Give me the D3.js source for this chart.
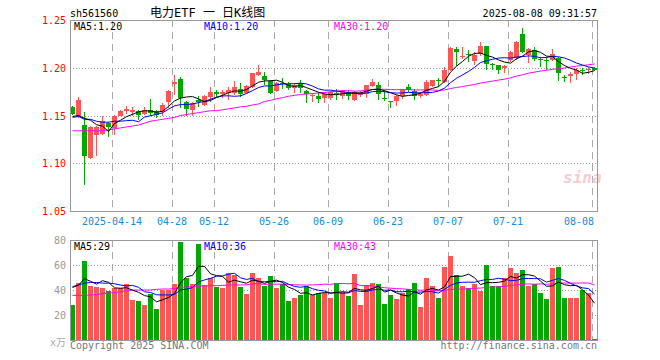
<!DOCTYPE html>
<html><head><meta charset="utf-8">
<script src="https://cdn.jsdelivr.net/npm/d3@7"></script>
<style>
body{margin:0;background:#fff}
svg{display:block}
text{font-family:"DejaVu Sans Mono","Noto Sans CJK SC",monospace}
</style>
</head><body>
<svg id="chart" width="660" height="360"></svg>
<script>
// ---------- data ----------
const dates = ["04-02","04-03","04-07","04-08","04-09","04-10","04-11","04-14","04-15","04-16","04-17","04-18","04-21","04-22","04-23","04-24","04-25","04-28","04-29","04-30",
"05-06","05-07","05-08","05-09","05-12","05-13","05-14","05-15","05-16","05-19","05-20","05-21","05-22","05-23","05-26","05-27","05-28","05-29","05-30",
"06-03","06-04","06-05","06-06","06-09","06-10","06-11","06-12","06-13","06-16","06-17","06-18","06-19","06-20","06-23","06-24","06-25","06-26","06-27","06-30",
"07-01","07-02","07-03","07-04","07-07","07-08","07-09","07-10","07-11","07-14","07-15","07-16","07-17","07-18","07-21","07-22","07-23","07-24","07-25","07-28","07-29","07-30","07-31",
"08-01","08-04","08-05","08-06","08-07","08-08"];
const open = [1.159,1.149,1.140,1.105,1.130,1.131,1.142,1.137,1.150,1.155,1.154,1.155,1.152,1.156,1.155,1.154,1.164,1.183,1.188,1.164,
1.156,1.166,1.161,1.169,1.175,1.173,1.174,1.174,1.178,1.174,1.180,1.192,1.191,1.186,1.176,1.184,1.183,1.179,1.184,
1.176,1.170,1.170,1.168,1.168,1.174,1.170,1.175,1.166,1.171,1.173,1.181,1.182,1.168,1.165,1.165,1.170,1.180,1.176,1.170,
1.171,1.181,1.187,1.185,1.198,1.220,1.211,1.214,1.207,1.214,1.223,1.204,1.203,1.200,1.208,1.210,1.235,1.213,1.219,1.209,1.208,1.208,1.210,
1.190,1.191,1.193,1.198,1.198,1.200];
const high = [1.160,1.169,1.154,1.139,1.139,1.149,1.143,1.151,1.156,1.160,1.159,1.156,1.159,1.167,1.156,1.163,1.177,1.192,1.190,1.165,
1.164,1.170,1.171,1.180,1.177,1.177,1.180,1.186,1.184,1.182,1.195,1.203,1.196,1.187,1.185,1.189,1.185,1.184,1.187,
1.177,1.173,1.175,1.174,1.176,1.178,1.177,1.177,1.176,1.176,1.182,1.188,1.185,1.177,1.165,1.171,1.178,1.183,1.178,1.175,
1.187,1.187,1.189,1.201,1.222,1.222,1.222,1.219,1.216,1.227,1.223,1.205,1.203,1.203,1.218,1.228,1.242,1.221,1.222,1.211,1.211,1.220,1.211,
1.192,1.196,1.200,1.200,1.201,1.201];
const low = [1.151,1.147,1.077,1.104,1.108,1.130,1.127,1.130,1.149,1.152,1.150,1.145,1.151,1.150,1.147,1.149,1.158,1.171,1.158,1.150,
1.149,1.159,1.160,1.164,1.168,1.168,1.166,1.171,1.169,1.173,1.179,1.191,1.182,1.173,1.175,1.178,1.177,1.174,1.174,
1.163,1.164,1.163,1.163,1.166,1.166,1.167,1.166,1.165,1.169,1.168,1.180,1.166,1.165,1.158,1.160,1.167,1.175,1.166,1.168,
1.170,1.180,1.180,1.184,1.197,1.202,1.209,1.206,1.203,1.212,1.198,1.198,1.193,1.195,1.206,1.208,1.215,1.205,1.207,1.201,1.198,1.207,1.186,
1.185,1.184,1.187,1.192,1.193,1.197];
const close = [1.152,1.166,1.108,1.138,1.138,1.144,1.138,1.150,1.155,1.157,1.156,1.151,1.156,1.153,1.151,1.161,1.176,1.185,1.168,1.157,
1.163,1.164,1.170,1.175,1.172,1.175,1.177,1.180,1.173,1.181,1.194,1.196,1.187,1.174,1.184,1.183,1.179,1.182,1.179,
1.173,1.171,1.167,1.173,1.175,1.173,1.176,1.170,1.175,1.174,1.182,1.185,1.172,1.167,1.164,1.170,1.177,1.177,1.170,1.173,
1.185,1.187,1.186,1.198,1.221,1.216,1.212,1.213,1.213,1.223,1.204,1.203,1.198,1.202,1.217,1.227,1.217,1.220,1.209,1.208,1.207,1.214,1.194,
1.189,1.193,1.198,1.197,1.199,1.198];
const volume = [28,45.9,63.5,43.2,42.7,41.9,39.5,41.3,41.6,44.8,32,31.2,28,36.8,24.8,40,40,44.8,78.7,49.9,
44.8,76.8,44,49.3,42.7,41.6,53.9,52,42.7,36.8,53.9,49.9,43.2,51.2,41.3,44.5,31.2,33.9,36,
43.2,36,37.3,37.3,33.9,45.9,38.7,35.2,52.8,28,44,45.9,44.8,28.8,36,32.8,37.3,40.8,45.9,26.7,
49.9,43.2,33.9,58.7,67.5,52,43.2,41.9,44.8,39.5,60,43.2,43.2,49.9,57.9,53.9,56,43.5,44.5,37.9,32.8,57.9,58.7,
33.9,34,34,40,37.9,1];

// moving-average values before the window fills
const priceMA5Head = [1.149,1.150,1.147,1.145];
const priceMA10Head = [1.148,1.149,1.146,1.146,1.144,1.143,1.143,1.144,1.144];
const priceMA30Head = [1.134,1.134,1.134,1.134,1.134,1.134,1.135,1.136,1.137,1.138,1.139,1.140,1.142,1.144,1.145,1.146,1.147,1.148,1.150,1.151,1.152,1.153,1.154,1.155,1.155,1.156,1.157,1.158,1.159];
const volMA5Head = [42,44,49,47];
const volMA10Head = [42.7,44,45.5,46,46,45.5,45.5,45,44];
const volMA30Head = [35.7,35.7,35.7,36,36.3,37.1,37.6,37.9,38.7,39.5,40,40,40,40,40.5,40.8,40.8,41.1,42.1,42.4,42.7,43.2,43.2,43.5,43.5,43.7,44,44,44];

const priceTicks = [1.25,1.20,1.15,1.10,1.05];
const volTicks = [80,60,40,20];
const xTickDates = ["04-14","04-28","05-12","05-26","06-09","06-23","07-07","07-21","08-08"];
const xTickLabels = ["2025-04-14","04-28","05-12","05-26","06-09","06-23","07-07","07-21","08-08"];
const priceMALabels = ["MA5:1.20","MA10:1.20","MA30:1.20"];
const volMALabels = ["MA5:29","MA10:36","MA30:43"];
const maColors = ["#000000","#0000ff","#ff00ff"];

// ---------- layout ----------
const svg = d3.select("#chart");
const L = 70, R = 597;
const P = {top:20, bottom:211};
const V = {top:240, bottom:340};
const UP = "#ff5555", DOWN = "#00a800";

const x = d3.scaleBand().domain(dates).range([69.5, 597.5]).paddingInner(1/6).paddingOuter(1/12);
const y = d3.scaleLinear().domain([1.05,1.25]).range([P.bottom, P.top]);
const yv = d3.scaleLinear().domain([0,80]).range([V.bottom, V.top]);
const cx = d => x(d) + x.bandwidth()/2;
const idx = d3.range(dates.length);
const isUp = i => close[i] >= open[i];

function ma(values, n, head){
  return values.map((v,i)=> i < n-1 ? head[i] : d3.mean(values.slice(i-n+1, i+1)));
}

// ---------- titles ----------
svg.append("text").attr("x",70).attr("y",17).attr("font-size",10).attr("fill","#000").text("sh561560");
svg.append("text").attr("x",150).attr("y",17).attr("font-size",12).attr("fill","#000").text("电力ETF 一 日K线图");
svg.append("text").attr("x",597).attr("y",17).attr("text-anchor","end").attr("font-size",10).attr("fill","#000").text("2025-08-08 09:31:57");

// ---------- grids ----------
function grid(top, bottom, yScale, hTicks){
  const g = svg.append("g").attr("shape-rendering","crispEdges");
  g.selectAll("line.v").data(xTickDates).join("line")
    .attr("x1", d=>Math.round(x(d))+0.5).attr("x2", d=>Math.round(x(d))+0.5)
    .attr("y1", top).attr("y2", bottom)
    .attr("stroke","#aaa").attr("stroke-dasharray","7,5");
  g.selectAll("line.h").data(hTicks).join("line")
    .attr("x1", L).attr("x2", R)
    .attr("y1", d=>Math.round(yScale(d))+0.5).attr("y2", d=>Math.round(yScale(d))+0.5)
    .attr("stroke","#999").attr("stroke-dasharray","1,2");
}
grid(P.top, P.bottom, y, priceTicks.slice(1,-1));
grid(V.top, V.bottom, yv, volTicks.slice(1));

// ---------- axes labels ----------
svg.append("g").selectAll("text").data(priceTicks).join("text")
  .attr("x",66).attr("y",d=>y(d)+4).attr("text-anchor","end").attr("font-size",10).attr("fill","#ff0000")
  .text(d=>d3.format(".2f")(d));
svg.append("g").selectAll("text").data(volTicks).join("text")
  .attr("x",66).attr("y",d=>yv(d)+4).attr("text-anchor","end").attr("font-size",10).attr("fill","#999")
  .text(d=>d);
svg.append("text").attr("x",66).attr("y",346).attr("text-anchor","end").attr("font-size",10).attr("fill","#aaa").text("x万");
svg.append("g").selectAll("text").data(xTickDates).join("text")
  .attr("x",(d,i)=> i===xTickDates.length-1 ? x(d)+2 : x(d))
  .attr("y",225)
  .attr("text-anchor",(d,i)=> i===xTickDates.length-1 ? "end" : "middle")
  .attr("font-size",10).attr("fill","#1a8ad8")
  .text((d,i)=>xTickLabels[i]);

// watermark
svg.append("text").attr("x",563).attr("y",183).attr("font-family","DejaVu Sans").attr("font-style","italic").attr("font-weight","bold")
  .attr("font-size",16).attr("fill","#f6cccc").text("sina");

// ---------- candles ----------
const cg = svg.append("g").attr("shape-rendering","crispEdges");
cg.selectAll("line").data(idx).join("line")
  .attr("x1", i=>Math.floor(cx(dates[i]))+0.5).attr("x2", i=>Math.floor(cx(dates[i]))+0.5)
  .attr("y1", i=>y(high[i])).attr("y2", i=>y(low[i]))
  .attr("stroke", i=>isUp(i)?UP:DOWN);
cg.selectAll("rect").data(idx).join("rect")
  .attr("x", i=>x(dates[i])).attr("width", x.bandwidth())
  .attr("y", i=>y(Math.max(open[i],close[i])))
  .attr("height", i=>Math.max(1, Math.abs(y(open[i])-y(close[i]))))
  .attr("fill", i=>isUp(i)?UP:DOWN);

// ---------- volume bars ----------
const vg = svg.append("g").attr("shape-rendering","crispEdges");
vg.selectAll("rect").data(idx).join("rect")
  .attr("x", i=>x(dates[i])).attr("width", x.bandwidth())
  .attr("y", i=>yv(volume[i])).attr("height", i=>yv(0)-yv(volume[i]))
  .attr("fill", i=>isUp(i)?UP:DOWN);

// ---------- MA lines ----------
const pMA = [ma(close,5,priceMA5Head), ma(close,10,priceMA10Head), ma(close,30,priceMA30Head)];
const vMA = [ma(volume,5,volMA5Head), ma(volume,10,volMA10Head), ma(volume,30,volMA30Head)];
const pLine = d3.line().x((v,i)=>cx(dates[i])).y(v=>y(v));
const vLine = d3.line().x((v,i)=>cx(dates[i])).y(v=>yv(v));
[2,1,0].forEach(k=>{
  svg.append("path").attr("d", pLine(pMA[k])).attr("fill","none").attr("stroke",maColors[k]).attr("stroke-width",1);
  svg.append("path").attr("d", vLine(vMA[k])).attr("fill","none").attr("stroke",maColors[k]).attr("stroke-width",1);
});

// ---------- frames ----------
const fg = svg.append("g").attr("shape-rendering","crispEdges").attr("fill","none").attr("stroke","#999");
fg.append("rect").attr("x",L+0.5).attr("y",P.top+0.5).attr("width",R-L).attr("height",P.bottom-P.top);
fg.append("rect").attr("x",L+0.5).attr("y",V.top+0.5).attr("width",R-L).attr("height",V.bottom-V.top);

// ---------- MA labels ----------
const labelX = [74,204,334];
svg.append("g").selectAll("text").data(priceMALabels).join("text")
  .attr("x",(d,i)=>labelX[i]).attr("y",30).attr("font-size",10).attr("fill",(d,i)=>maColors[i]).text(d=>d);
svg.append("g").selectAll("text").data(volMALabels).join("text")
  .attr("x",(d,i)=>labelX[i]).attr("y",250).attr("font-size",10).attr("fill",(d,i)=>maColors[i]).text(d=>d);

// ---------- footer ----------
svg.append("text").attr("x",70).attr("y",349).attr("font-size",10).attr("fill","#777").text("Copyright 2025 SINA.COM");
svg.append("text").attr("x",597).attr("y",349).attr("text-anchor","end").attr("font-size",10).attr("fill","#777").text("http://finance.sina.com.cn");
</script>
</body></html>
